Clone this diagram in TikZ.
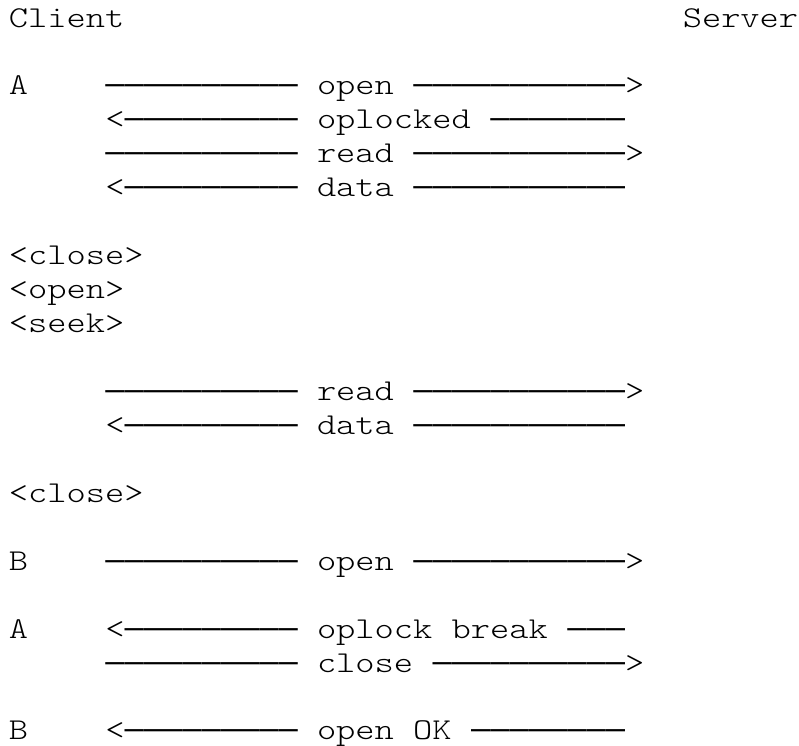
\documentclass[tikz,border=0pt]{standalone}
\usepackage{fontspec}
% Light typewriter face for the words, widened so each character takes one grid cell
\newfontfamily\wordfont{lmmonolt10-regular}[Extension=.otf, FakeStretch=1.21]
% Full-cell em dashes for the message rules
\newfontfamily\rulefont{DejaVu Sans Mono}
\tikzset{
  word/.style={anchor=base west, inner sep=0pt, outer sep=0pt,
    font=\wordfont\fontsize{30.3pt}{34pt}\selectfont},
  dashrun/.style={anchor=base west, inner sep=0pt, outer sep=0pt,
    font=\rulefont\fontsize{31.98pt}{34pt}\selectfont},
}
\begin{document}
% one unit = one character cell horizontally, one text line vertically
\begin{tikzpicture}[x=19.25pt, y=-33.95pt]
\useasboundingbox (-0.4675,-0.7953) rectangle (41.039,21.149);

% header
\node[word] (client) at (0,0) {Client};
\node[word] (server) at (35,0) {Server};

% A opens the file
\node[word] (a1) at (0,2) {A};
\node[dashrun] (openL) at (5,2) {——————————};
\node[word] (open) at (16,2) {open};
\node[dashrun] (openR) at (21,2) {———————————};
\node[word] (openH) at (32,2) {>};

\node[word] (oplkH) at (5,3) {<};
\node[dashrun] (oplkL) at (6,3) {—————————};
\node[word] (oplk) at (16,3) {oplocked};
\node[dashrun] (oplkR) at (25,3) {———————};

\node[dashrun] (read1L) at (5,4) {——————————};
\node[word] (read1) at (16,4) {read};
\node[dashrun] (read1R) at (21,4) {———————————};
\node[word] (read1H) at (32,4) {>};

\node[word] (data1H) at (5,5) {<};
\node[dashrun] (data1L) at (6,5) {—————————};
\node[word] (data1) at (16,5) {data};
\node[dashrun] (data1R) at (21,5) {———————————};

% local operations
\node[word] (close1) at (0,7) {<close>};
\node[word] (reopen) at (0,8) {<open>};
\node[word] (seek) at (0,9) {<seek>};

\node[dashrun] (read2L) at (5,11) {——————————};
\node[word] (read2) at (16,11) {read};
\node[dashrun] (read2R) at (21,11) {———————————};
\node[word] (read2H) at (32,11) {>};

\node[word] (data2H) at (5,12) {<};
\node[dashrun] (data2L) at (6,12) {—————————};
\node[word] (data2) at (16,12) {data};
\node[dashrun] (data2R) at (21,12) {———————————};

\node[word] (close2) at (0,14) {<close>};

% B opens the same file
\node[word] (b1) at (0,16) {B};
\node[dashrun] (bopenL) at (5,16) {——————————};
\node[word] (bopen) at (16,16) {open};
\node[dashrun] (bopenR) at (21,16) {———————————};
\node[word] (bopenH) at (32,16) {>};

% break to A
\node[word] (a2) at (0,18) {A};
\node[word] (brkH) at (5,18) {<};
\node[dashrun] (brkL) at (6,18) {—————————};
\node[word] (brk) at (16,18) {oplock break};
\node[dashrun] (brkR) at (29,18) {———};

\node[dashrun] (aclsL) at (5,19) {——————————};
\node[word] (acls) at (16,19) {close};
\node[dashrun] (aclsR) at (22,19) {——————————};
\node[word] (aclsH) at (32,19) {>};

% reply to B
\node[word] (b2) at (0,21) {B};
\node[word] (okH) at (5,21) {<};
\node[dashrun] (okL) at (6,21) {—————————};
\node[word] (ok) at (16,21) {open OK};
\node[dashrun] (okR) at (24,21) {————————};
\end{tikzpicture}
\end{document}
